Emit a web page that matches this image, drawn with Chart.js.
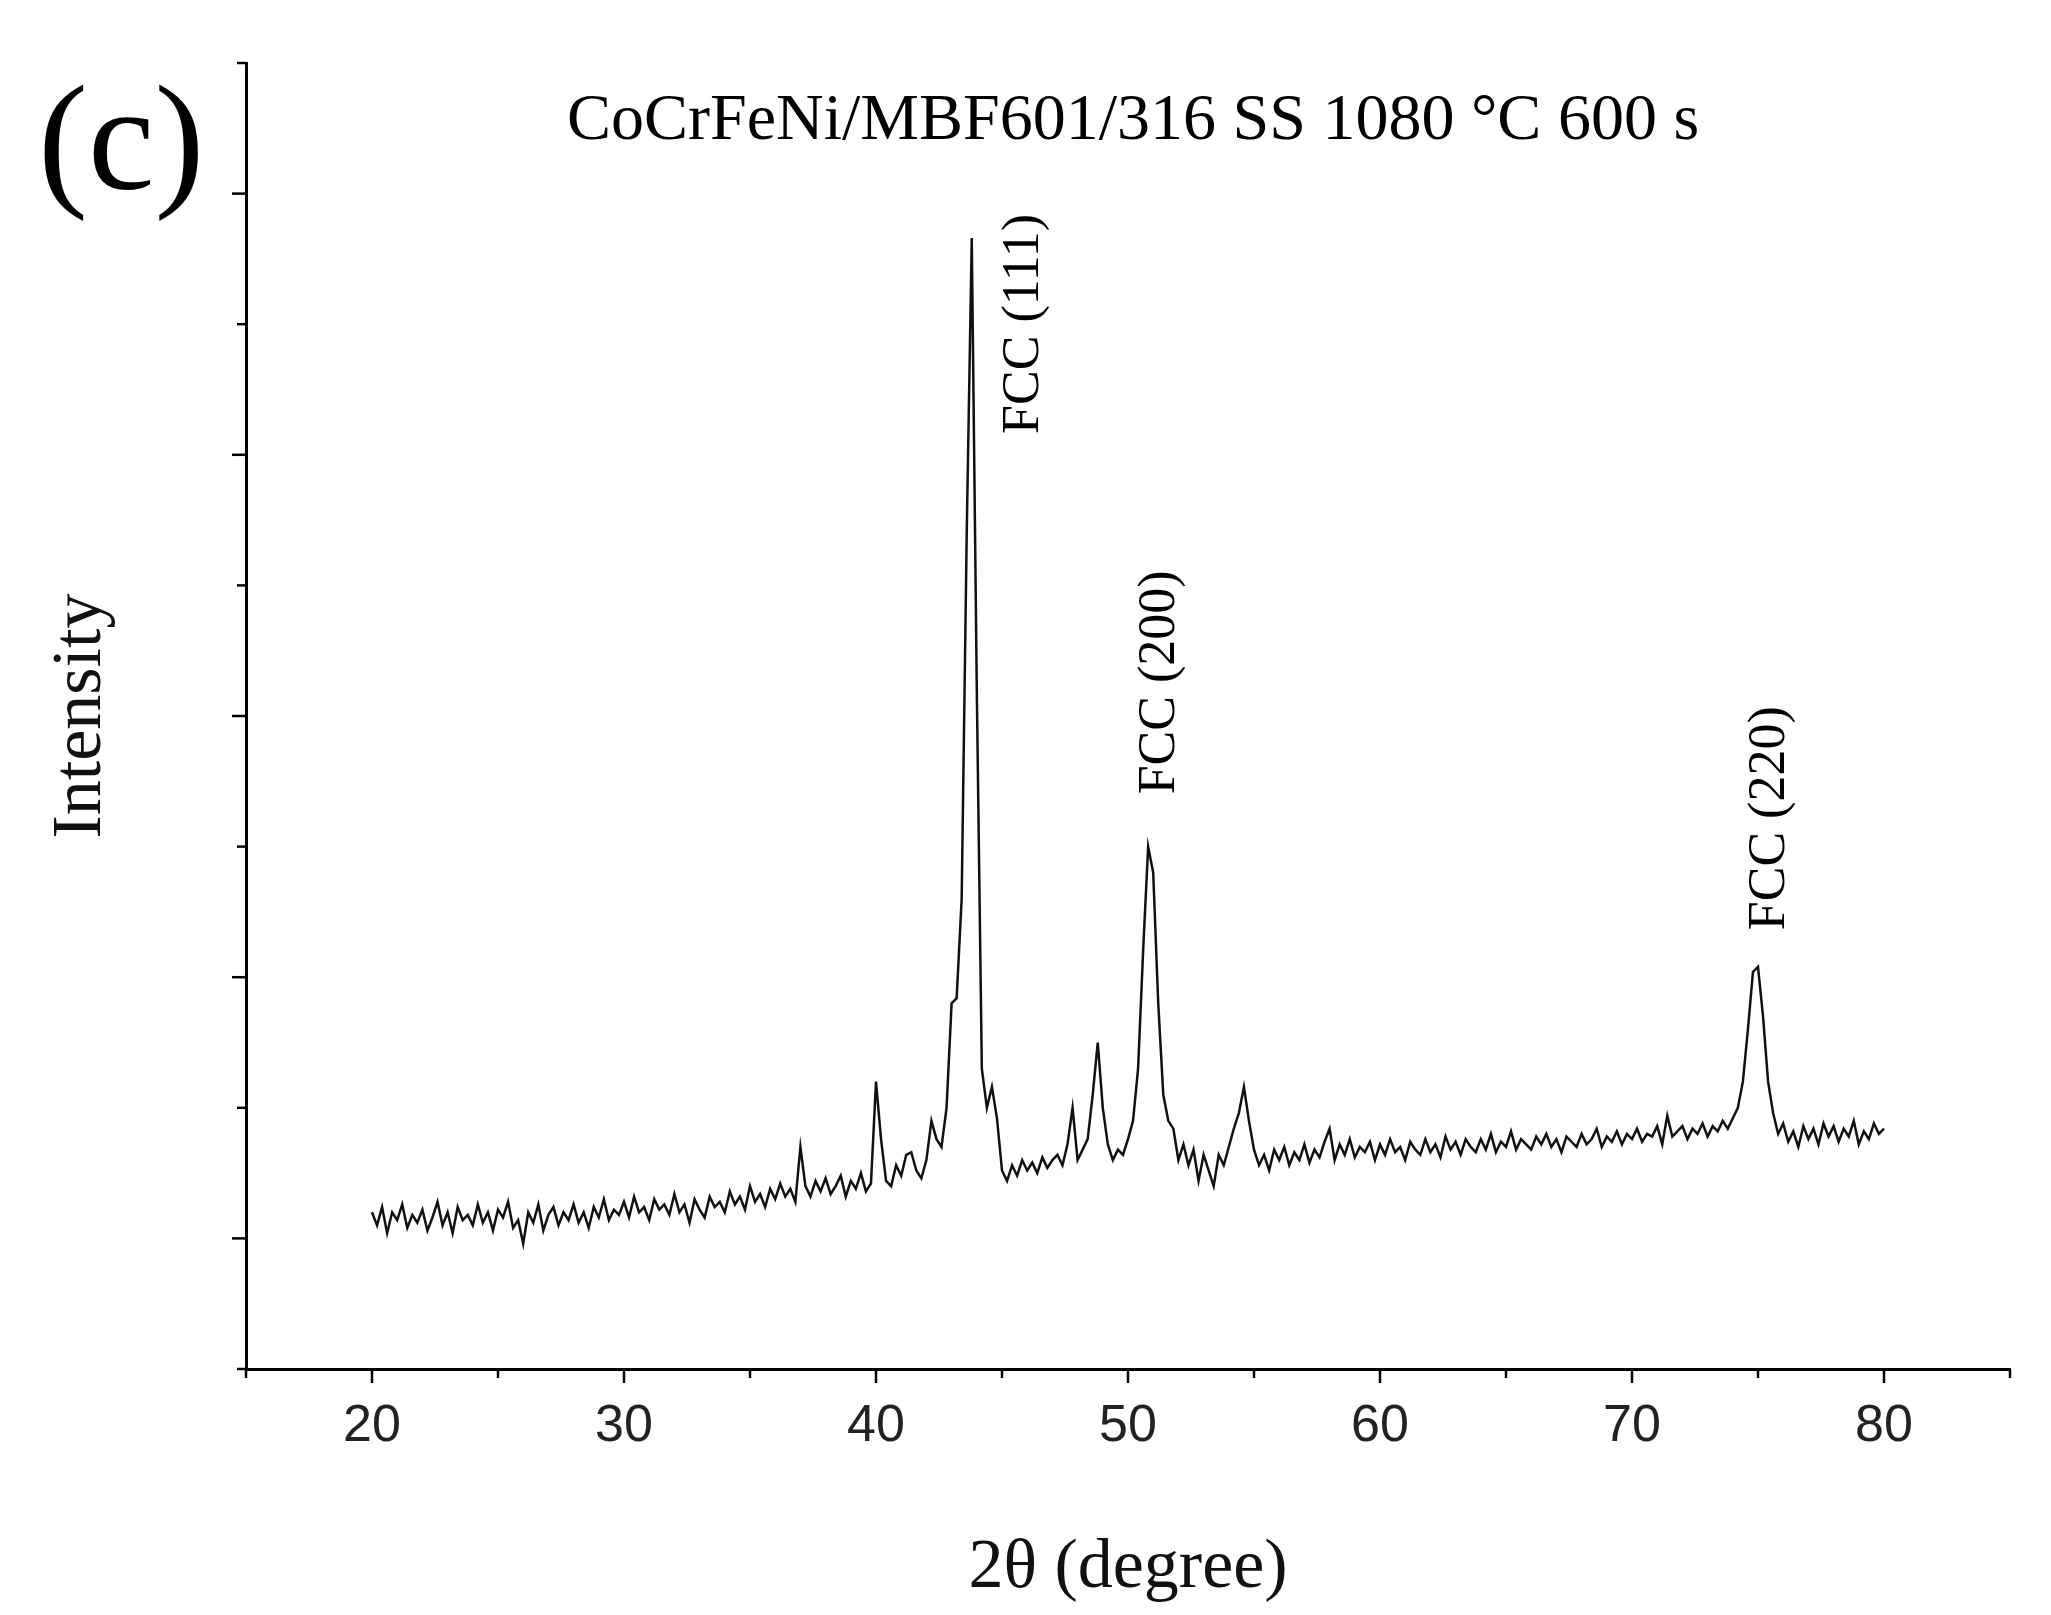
<!DOCTYPE html>
<html>
<head>
<meta charset="utf-8">
<script src="https://cdn.jsdelivr.net/npm/chart.js@4"></script>
<style>
  html, body { margin: 0; padding: 0; background: #fff; }
  #wrap { width: 2051px; height: 1615px; }
</style>
</head>
<body>
<div id="wrap"><canvas id="xrd"></canvas></div>
<script>
// 2θ from 20 to 80 in 0.2° steps
const thetaStart = 20;
const thetaStep = 0.2;
const intensity = [
  0.60, 0.55, 0.62, 0.52, 0.60, 0.57, 0.63, 0.54, 0.59, 0.56,
  0.61, 0.53, 0.58, 0.64, 0.55, 0.60, 0.52, 0.62, 0.57, 0.59,
  0.55, 0.63, 0.56, 0.60, 0.53, 0.61, 0.58, 0.64, 0.54, 0.57,
  0.48, 0.60, 0.56, 0.63, 0.53, 0.59, 0.62, 0.55, 0.60, 0.57,
  0.63, 0.56, 0.60, 0.54, 0.62, 0.58, 0.65, 0.57, 0.61, 0.59,
  0.64, 0.58, 0.66, 0.60, 0.62, 0.57, 0.65, 0.61, 0.63, 0.59,
  0.67, 0.60, 0.63, 0.56, 0.65, 0.61, 0.58, 0.66, 0.62, 0.64,
  0.60, 0.68, 0.63, 0.66, 0.61, 0.70, 0.64, 0.67, 0.62, 0.69,
  0.65, 0.71, 0.66, 0.69, 0.64, 0.85, 0.70, 0.66, 0.72, 0.68,
  0.73, 0.67, 0.70, 0.74, 0.66, 0.72, 0.69, 0.75, 0.68, 0.71,
  1.10, 0.88, 0.72, 0.70, 0.78, 0.74, 0.82, 0.83, 0.76, 0.73,
  0.80, 0.95, 0.88, 0.85, 1.00, 1.40, 1.42, 1.80, 3.20, 4.33,
  2.60, 1.15, 1.00, 1.08, 0.96, 0.76, 0.72, 0.78, 0.74, 0.80,
  0.76, 0.79, 0.75, 0.81, 0.77, 0.80, 0.82, 0.78, 0.86, 1.00,
  0.80, 0.84, 0.88, 1.05, 1.25, 1.00, 0.86, 0.80, 0.84, 0.82,
  0.88, 0.95, 1.15, 1.60, 2.00, 1.90, 1.40, 1.05, 0.95, 0.92,
  0.80, 0.86, 0.78, 0.84, 0.72, 0.82, 0.76, 0.70, 0.82, 0.78,
  0.85, 0.92, 0.98, 1.08, 0.95, 0.84, 0.78, 0.82, 0.76, 0.84,
  0.80, 0.85, 0.78, 0.83, 0.80, 0.86, 0.79, 0.84, 0.81, 0.87,
  0.92, 0.80, 0.86, 0.82, 0.88, 0.81, 0.85, 0.83, 0.87, 0.80,
  0.86, 0.82, 0.88, 0.83, 0.85, 0.80, 0.87, 0.84, 0.82, 0.88,
  0.83, 0.86, 0.81, 0.89, 0.84, 0.87, 0.82, 0.88, 0.85, 0.83,
  0.88, 0.84, 0.90, 0.83, 0.87, 0.85, 0.91, 0.84, 0.88, 0.86,
  0.84, 0.89, 0.86, 0.90, 0.85, 0.88, 0.83, 0.89, 0.87, 0.85,
  0.90, 0.86, 0.88, 0.92, 0.85, 0.89, 0.87, 0.91, 0.86, 0.90,
  0.88, 0.92, 0.87, 0.90, 0.89, 0.93, 0.86, 0.97, 0.89, 0.91,
  0.93, 0.88, 0.92, 0.90, 0.94, 0.89, 0.93, 0.91, 0.95, 0.92,
  0.96, 1.00, 1.10, 1.30, 1.52, 1.54, 1.35, 1.10, 0.98, 0.90,
  0.94, 0.87, 0.91, 0.85, 0.93, 0.88, 0.92, 0.86, 0.94, 0.89,
  0.93, 0.87, 0.92, 0.89, 0.95, 0.86, 0.91, 0.88, 0.94, 0.90,
  0.92
];
const xTickLabels = [20, 30, 40, 50, 60, 70, 80];
const peakLabels = ['FCC (111)', 'FCC (200)', 'FCC (220)'];
const peakTheta = [45.9, 51.3, 75.5];
const peakLabelY = [3.58, 2.2, 1.68];

const points = intensity.map((v, i) => ({ x: +(thetaStart + i * thetaStep).toFixed(1), y: v }));

const serif = '"Liberation Serif", "DejaVu Serif", serif';

// ticks + annotations drawn by hand
const decor = {
  id: 'decor',
  afterDraw(chart) {
    const ctx = chart.ctx;
    const xs = chart.scales.x, ys = chart.scales.y;
    const area = chart.chartArea;
    ctx.save();
    ctx.strokeStyle = '#000';
    ctx.lineWidth = 2.5;
    // x ticks, every 5, longer at multiples of 10
    for (let v = 15; v <= 85; v += 5) {
      const px = xs.getPixelForValue(v);
      const len = v % 10 === 0 ? 14 : 9;
      ctx.beginPath(); ctx.moveTo(px, area.bottom); ctx.lineTo(px, area.bottom + len); ctx.stroke();
    }
    // y ticks, every 0.5, long ones at 0.5, 1.5 ...
    for (let i = 0; i <= 10; i++) {
      const v = i * 0.5;
      const py = ys.getPixelForValue(v);
      const len = i % 2 === 1 ? 14 : 9;
      ctx.beginPath(); ctx.moveTo(area.left, py); ctx.lineTo(area.left - len, py); ctx.stroke();
    }
    ctx.fillStyle = '#000';
    // title
    ctx.font = '66px ' + serif;
    ctx.textAlign = 'center'; ctx.textBaseline = 'middle';
    ctx.fillText('CoCrFeNi/MBF601/316 SS 1080 °C 600 s', 1133, 122);
    // panel letter
    ctx.font = '150px ' + serif;
    ctx.textAlign = 'left';
    ctx.fillText('(c)', 38, 150);
    // peak labels, rotated
    ctx.font = '52px ' + serif;
    for (let i = 0; i < peakLabels.length; i++) {
      ctx.save();
      ctx.translate(xs.getPixelForValue(peakTheta[i]), ys.getPixelForValue(peakLabelY[i]));
      ctx.rotate(-Math.PI / 2);
      ctx.textAlign = 'left'; ctx.textBaseline = 'middle';
      ctx.fillText(peakLabels[i], 0, 0);
      ctx.restore();
    }
    ctx.restore();
  }
};

new Chart(document.getElementById('xrd'), {
  type: 'line',
  data: {
    datasets: [{
      data: points,
      borderColor: '#111',
      borderWidth: 2.5,
      pointRadius: 0,
      tension: 0
    }]
  },
  options: {
    responsive: true,
    maintainAspectRatio: false,
    animation: false,
    layout: { padding: { top: 63, right: 41 } },
    plugins: { legend: { display: false }, tooltip: { enabled: false } },
    scales: {
      x: {
        type: 'linear', min: 15, max: 85,
        grid: { display: false },
        border: { color: '#000', width: 3 },
        afterFit(s) { s.height = 246; },
        afterBuildTicks(s) { s.ticks = xTickLabels.map(v => ({ value: v })); },
        ticks: { color: '#222', font: { size: 52, family: '"Liberation Sans", Arial, sans-serif' }, padding: 18, maxRotation: 0 },
        title: { display: true, text: '2θ (degree)', color: '#111', font: { size: 70, family: serif }, padding: { top: 1 } }
      },
      y: {
        min: 0, max: 5,
        grid: { display: false },
        border: { color: '#000', width: 3 },
        afterFit(s) { s.width = 246; },
        ticks: { display: false },
        title: { display: true, text: 'Intensity', color: '#111', font: { size: 70, family: serif }, padding: { top: 40, bottom: 20 } }
      }
    }
  },
  plugins: [decor]
});
</script>
</body>
</html>
